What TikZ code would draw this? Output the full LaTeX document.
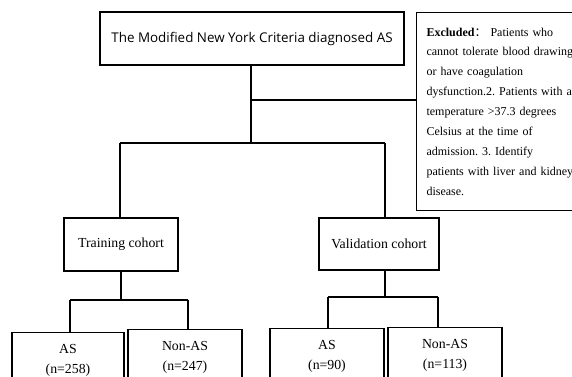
\documentclass[tikz,border=0pt]{standalone}
\usepackage{fontspec}
\setmainfont{Liberation Serif}
\newfontfamily\topfont{Open Sans}
\newfontfamily\cjk{Noto Sans CJK SC}
\usetikzlibrary{positioning}

\tikzset{
  box/.style={draw, line width=1.1pt, align=center, font=\fontsize{13.8}{20}\selectfont},
  leaf/.style={box, anchor=north, inner xsep=0pt, inner ysep=11.5pt},
  link/.style={line width=1.1pt}
}

\begin{document}
\frenchspacing
\begin{tikzpicture}[x=1pt,y=-1pt]
\useasboundingbox (0,0) rectangle (572,376);

\node (top) at (252,38.5) [box, font=\topfont\fontsize{13.4}{16}\selectfont, minimum width=304pt, minimum height=53pt] {The Modified New York Criteria diagnosed AS};

\node (excl) at (416,12) [box, anchor=north west, align=left, text width=160pt, inner xsep=10pt, minimum height=198pt, font=\fontsize{12}{19.9}\selectfont]
{\textbf{Excluded}{\cjk ：}\ Patients who\\
cannot tolerate blood drawing\\
or have coagulation\\
dysfunction.2. Patients with a\\
temperature >37.3 degrees\\
Celsius at the time of\\
admission. 3. Identify\\
patients with liver and kidney\\
disease.};

\node (train) at (121,244.5) [box, minimum width=114pt, minimum height=53pt] {Training cohort};
\node (valid) at (379,244) [box, minimum width=120pt, minimum height=52pt] {Validation cohort};

\node (trAS) at (68,332) [leaf, text width=112pt] {AS\\(n=258)};
\node (trNon) at (185,329) [leaf, text width=114pt] {Non-AS\\(n=247)};
\node (vaAS) at (327,328) [leaf, text width=114pt] {AS\\(n=90)};
\node (vaNon) at (445,327) [leaf, text width=114pt] {Non-AS\\(n=113)};

\coordinate (hub) at (251,143);
\coordinate (exj) at (251,100);
\coordinate (tdrop) at (120,143);
\coordinate (vdrop) at (385,143);
\coordinate (tl) at (70,300);
\coordinate (tr) at (188,300);
\coordinate (vl) at (328,297);
\coordinate (vr) at (438,297);

\draw [link] (top.south -| hub) -- (hub);
\draw [link] (exj) -- (exj -| excl.west);
\draw [link] (tdrop) -- (vdrop);
\draw [link] (tdrop) -- (tdrop |- train.north);
\draw [link] (vdrop) -- (vdrop |- valid.north);

\draw [link] (train.south) -- (train.south |- tl);
\draw [link] (tl) -- (tr);
\draw [link] (tl) -- (tl |- trAS.north);
\draw [link] (tr) -- (tr |- trNon.north);

\draw [link] (valid.south -| vdrop) -- (vdrop |- vl);
\draw [link] (vl) -- (vr);
\draw [link] (vl) -- (vl |- vaAS.north);
\draw [link] (vr) -- (vr |- vaNon.north);

\end{tikzpicture}
\end{document}
